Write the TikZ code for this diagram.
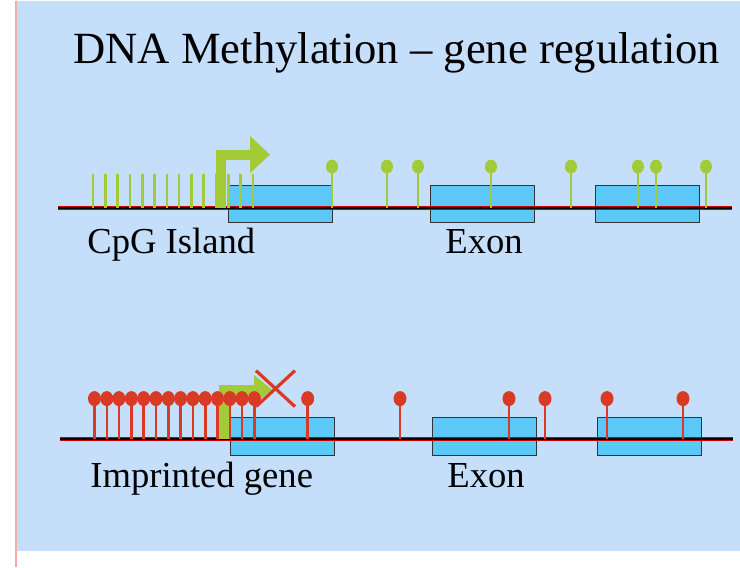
\documentclass[tikz,border=0pt]{standalone}
\usepackage{fontspec}
\setmainfont{Liberation Serif}
\usetikzlibrary{arrows.meta}
\definecolor{bgblue}{HTML}{C5DEFA}
\definecolor{exonblue}{HTML}{5BC8F8}
\definecolor{cpggreen}{HTML}{A3CB38}
\definecolor{methred}{HTML}{D93A26}
\begin{document}
\begin{tikzpicture}[x=0.5pt,y=-0.5pt,
exon/.style={draw=black!80, fill=exonblue, line width=0.5pt},
tick/.style={cpggreen, line width=1.3pt},
lolly/.style={line width=1.3pt},
lab/.style={anchor=base west, font=\fontsize{18.3}{20}\selectfont, inner sep=0pt}]
    \fill[white] (0,0) rectangle (740,566);
    \fill[bgblue] (17,0) rectangle (740,550);
    \draw[methred!40, line width=0.6pt] (16,0) -- (16,566);
    \node[anchor=base west, inner sep=0pt, font=\fontsize{22.3}{26}\selectfont]
        (title) at (73,63) {DNA Methylation -- gene regulation};
    % unmethylated CpG island
    \foreach \bx in {228,430,595} \draw[exon] (\bx,185) rectangle +(104,37);
    \draw[red!80!black, line width=2pt] (58,207) -- (732,207);
    \draw[black, line width=1.1pt] (58,207) -- (732,207);
    \foreach \i in {0,...,13} \draw[tick] (93+12.3*\i,207) -- (93+12.3*\i,173);
    \foreach \px in {332,387,418,491,571,638,656,706} {
        \draw[lolly, cpggreen] (\px,207) -- (\px,167);
        \fill[cpggreen] (\px,166) ellipse (6 and 7);
    }
    \draw[cpggreen, line width=5pt, -{Triangle[width=18pt,length=10pt]}]
        (221,207) -- (221,154) -- (270,154);
    \node[lab] (cpg) at (87,253) {CpG Island};
    \node[lab] (exon1) at (445,253) {Exon};
    % methylated imprinted gene
    \foreach \bx in {230,432,597} \draw[exon] (\bx,417) rectangle +(104,38);
    \draw[red!80!black, line width=2pt] (60,438) -- (733,438);
    \draw[black, line width=1.1pt] (60,438) -- (733,438);
    \draw[cpggreen, line width=5pt, -{Triangle[width=14pt,length=9pt]}]
        (224,438) -- (224,389) -- (272,389);
    \foreach \px in {94.5,106.8,119,131.4,143.7,156,168.3,180.6,192.9,205.2,217.5,229.8,242,254.4,307.7,400,509,545,607,683} {
        \draw[lolly, methred] (\px,438) -- (\px,400);
        \fill[methred] (\px,398) ellipse (6.5 and 7.5);
    }
    \draw[methred, line width=1.6pt] (256,370) -- (295,406) (295,370) -- (256,406);
    \node[lab] (imprint) at (90,487) {Imprinted gene};
    \node[lab] (exon2) at (447,487) {Exon};
\end{tikzpicture}
\end{document}
